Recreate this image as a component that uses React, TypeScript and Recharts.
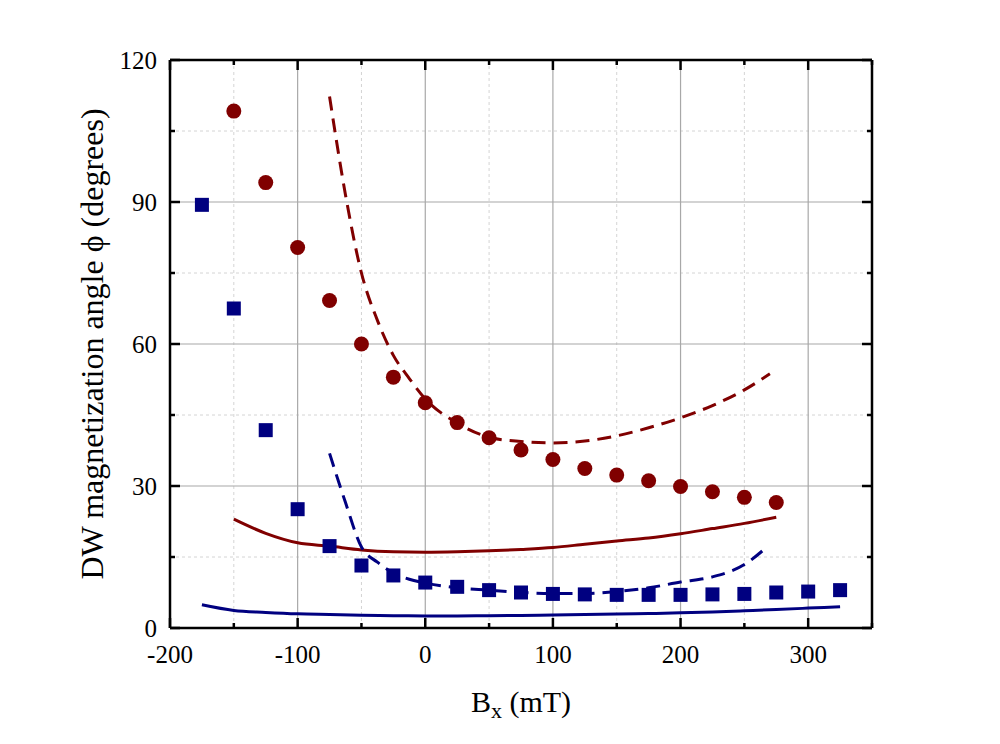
import React from "react";
import { ComposedChart, Line, Scatter, XAxis, YAxis, CartesianGrid, Label, ReferenceLine } from "recharts";

const RED = "#800000";
const BLUE = "#000080";
const FONT = "'Liberation Serif', 'Times New Roman', serif";

// axis ticks
const xTicks = [-200, -150, -100, -50, 0, 50, 100, 150, 200, 250, 300, 350];
const xMajor = [-200, -100, 0, 100, 200, 300];
const xMinor = [-150, -50, 50, 150, 250];
const yTicks = [0, 15, 30, 45, 60, 75, 90, 105, 120];
const yMajor = [0, 30, 60, 90, 120];
const yMinor = [15, 45, 75, 105];

// circles (red)
const circleX = [-150, -125, -100, -75, -50, -25, 0, 25, 50, 75, 100, 125, 150, 175, 200, 225, 250, 275];
const circleY = [109.2, 94.1, 80.4, 69.2, 60.0, 53.0, 47.6, 43.4, 40.2, 37.6, 35.6, 33.7, 32.3, 31.1, 29.9, 28.8, 27.6, 26.5];

// squares (blue)
const squareX = [-175, -150, -125, -100, -75, -50, -25, 0, 25, 50, 75, 100, 125, 150, 175, 200, 225, 250, 275, 300, 325];
const squareY = [89.4, 67.5, 41.8, 25.1, 17.3, 13.2, 11.1, 9.6, 8.7, 8.0, 7.5, 7.2, 7.1, 7.0, 7.0, 7.0, 7.1, 7.2, 7.5, 7.7, 8.0];

// red dashed curve
const redDashX = [-75, -62.5, -50, -37.5, -25, -12.5, 0, 25, 50, 75, 100, 125, 150, 175, 200, 225, 250, 270];
const redDashY = [112.3, 91.5, 75.0, 65.0, 57.6, 52.7, 48.4, 43.3, 40.3, 39.4, 39.1, 39.5, 40.6, 42.3, 44.4, 47.0, 50.3, 53.7];

// red solid curve
const redSolidX = [-150, -125, -100, -75, -50, -25, 0, 25, 50, 75, 100, 125, 150, 175, 200, 225, 250, 275];
const redSolidY = [23.0, 20.0, 18.0, 17.3, 16.5, 16.1, 16.0, 16.1, 16.3, 16.6, 17.0, 17.7, 18.4, 19.0, 19.9, 21.0, 22.1, 23.4];

// blue dashed curve
const blueDashX = [-75, -62.5, -50, -37.5, -25, -12.5, 0, 25, 50, 75, 100, 125, 150, 175, 200, 225, 250, 268];
const blueDashY = [36.9, 26.5, 17.1, 13.9, 11.6, 10.3, 9.5, 8.5, 8.0, 7.5, 7.3, 7.3, 7.7, 8.5, 9.7, 10.8, 13.4, 17.2];

// blue solid curve
const blueSolidX = [-175, -150, -125, -100, -75, -50, -25, 0, 25, 50, 75, 100, 125, 150, 175, 200, 225, 250, 275, 300, 325];
const blueSolidY = [4.9, 3.7, 3.3, 3.0, 2.85, 2.7, 2.6, 2.55, 2.55, 2.6, 2.65, 2.75, 2.85, 2.95, 3.05, 3.2, 3.4, 3.65, 3.9, 4.2, 4.5];

const zip = (xs: number[], ys: number[]) => xs.map((x, i) => ({ x, y: ys[i] }));

const circles = zip(circleX, circleY);
const squares = zip(squareX, squareY);
const redDash = zip(redDashX, redDashY);
const redSolid = zip(redSolidX, redSolidY);
const blueDash = zip(blueDashX, blueDashY);
const blueSolid = zip(blueSolidX, blueSolidY);

const X_DOMAIN: [number, number] = [-200, 350];
const Y_DOMAIN: [number, number] = [0, 120];

// layout
const W = 1000;
const H = 744;
const MARGIN = { top: 60, right: 128, bottom: 56, left: 100 };
const PLOT_TOP = MARGIN.top;
const PLOT_RIGHT = W - MARGIN.right;

const FRAME_W = 2.5;
const frame = { stroke: "#000", strokeWidth: FRAME_W };
const TICK_FONT = 25;
const X_GAP = 16;
const Y_GAP = 13;

// bottom axis: inward ticks (bottom + mirrored on top) and labels for majors
const BottomTick = (p: any) => {
  const v = p.payload.value;
  const x = p.payload.coordinate;
  const axisY = p.y - X_GAP;
  const major = xMajor.includes(v);
  const len = major ? 10 : 5;
  return (
    <g>
      <line x1={x} x2={x} y1={axisY} y2={axisY - len} stroke="#000" strokeWidth={FRAME_W} />
      <line x1={x} x2={x} y1={PLOT_TOP} y2={PLOT_TOP + len} stroke="#000" strokeWidth={FRAME_W} />
      {major && (
        <text x={x} y={p.y} dy="0.75em" textAnchor="middle" fontFamily={FONT} fontSize={TICK_FONT} fill="#000">
          {v}
        </text>
      )}
    </g>
  );
};

// left axis: inward ticks (left + mirrored on right) and labels for majors
const LeftTick = (p: any) => {
  const v = p.payload.value;
  const y = p.payload.coordinate;
  const axisX = p.x + Y_GAP;
  const major = yMajor.includes(v);
  const len = major ? 10 : 5;
  return (
    <g>
      <line x1={axisX} x2={axisX + len} y1={y} y2={y} stroke="#000" strokeWidth={FRAME_W} />
      <line x1={PLOT_RIGHT} x2={PLOT_RIGHT - len} y1={y} y2={y} stroke="#000" strokeWidth={FRAME_W} />
      {major && (
        <text x={p.x} y={y} dy="0.35em" textAnchor="end" fontFamily={FONT} fontSize={TICK_FONT} fill="#000">
          {v}
        </text>
      )}
    </g>
  );
};

const Dot = (p: any) => <circle cx={p.cx} cy={p.cy} r={7.5} fill={RED} />;
const Square = (p: any) => <rect x={p.cx - 7} y={p.cy - 7} width={14} height={14} fill={BLUE} />;

const YTitle = ({ viewBox }: any) => {
  const cx = viewBox.x + 3;
  const cy = viewBox.y + viewBox.height / 2;
  return (
    <text x={cx} y={cy} transform={`rotate(-90, ${cx}, ${cy})`} textAnchor="middle" fontFamily={FONT} fontSize={32} fill="#000">
      DW magnetization angle ϕ (degrees)
    </text>
  );
};

const XTitle = ({ viewBox }: any) => {
  const cx = viewBox.x + viewBox.width / 2;
  return (
    <text x={cx} y={viewBox.y + 84} textAnchor="middle" fontFamily={FONT} fontSize={30} fill="#000">
      B<tspan fontSize={22} dy={6}>x</tspan>
      <tspan dy={-6}> (mT)</tspan>
    </text>
  );
};

export default function App() {
  return (
    <div style={{ position: "absolute", left: 0, top: 0, width: W, height: H, background: "#fff" }}>
      <ComposedChart width={W} height={H} margin={MARGIN}>
        <CartesianGrid stroke="#d4d4d4" strokeDasharray="3 3" verticalValues={xMinor} horizontalValues={yMinor} />
        <CartesianGrid stroke="#a8a8a8" strokeWidth={1.2} verticalValues={xMajor} horizontalValues={yMajor} />

        {/* top and right sides of the frame */}
        <ReferenceLine y={Y_DOMAIN[1]} stroke="#000" strokeWidth={FRAME_W} />
        <ReferenceLine x={X_DOMAIN[1]} stroke="#000" strokeWidth={FRAME_W} />

        <XAxis dataKey="x" type="number" domain={X_DOMAIN} ticks={xTicks} interval={0} height={60}
          axisLine={frame} tickLine={false} tickSize={0} tickMargin={X_GAP} tick={BottomTick} allowDataOverflow>
          <Label content={XTitle} />
        </XAxis>
        <YAxis dataKey="y" type="number" domain={Y_DOMAIN} ticks={yTicks} interval={0} width={70}
          axisLine={frame} tickLine={false} tickSize={0} tickMargin={Y_GAP} tick={LeftTick} allowDataOverflow>
          <Label content={YTitle} />
        </YAxis>

        <Line data={redSolid} dataKey="y" type="monotone" stroke={RED} strokeWidth={3} dot={false} isAnimationActive={false} />
        <Line data={blueSolid} dataKey="y" type="monotone" stroke={BLUE} strokeWidth={3} dot={false} isAnimationActive={false} />
        <Line data={redDash} dataKey="y" type="monotone" stroke={RED} strokeWidth={3} strokeDasharray="14 8" dot={false} isAnimationActive={false} />
        <Line data={blueDash} dataKey="y" type="monotone" stroke={BLUE} strokeWidth={3} strokeDasharray="14 8" dot={false} isAnimationActive={false} />
        <Scatter data={circles} dataKey="y" shape={Dot} isAnimationActive={false} />
        <Scatter data={squares} dataKey="y" shape={Square} isAnimationActive={false} />
      </ComposedChart>
    </div>
  );
}
